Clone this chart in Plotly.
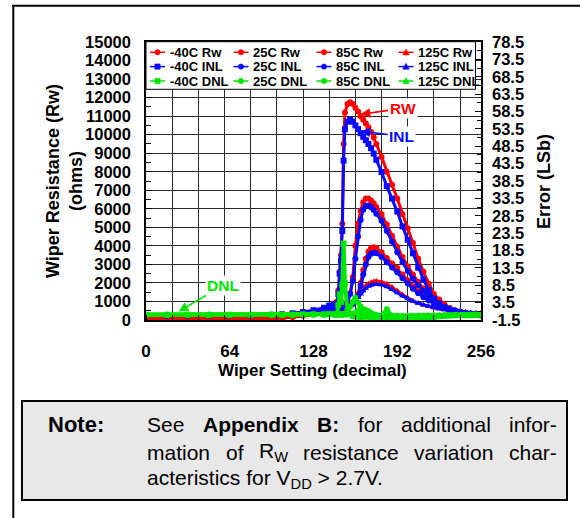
import plotly.graph_objects as go

# ---------------- data ----------------
CODES = [0, 16, 32, 48, 64, 80, 96, 104, 112, 120, 128, 136, 140, 144, 146, 147, 148, 149, 150, 151,
         152, 154, 156, 158, 160, 162, 164, 166, 168, 170, 172, 174, 176, 180, 184, 188, 192, 196, 200,
         204, 208, 212, 216, 220, 224, 228, 232, 236, 240, 244, 248, 252, 256]

# Wiper resistance (ohms), left axis
RW_M40 = [75, 75, 75, 75, 78, 80, 90, 120, 180, 260, 360, 500, 700, 900, 1000, 1600, 2600, 3500, 5200, 9500,
          11200, 11650, 11750, 11650, 11450, 11250, 11000, 10800, 10600, 10400, 10150, 9850, 9500, 8800, 8000,
          7300, 6550, 5700, 4950, 4150, 3300, 2600, 1950, 1400, 1100, 850, 650, 500, 400, 340, 295, 265, 240]
RW_25 = [75, 75, 75, 75, 78, 80, 90, 115, 170, 240, 330, 440, 500, 580, 620, 640, 670, 700, 740, 780,
         830, 1000, 1450, 2300, 4000, 5200, 5900, 6350, 6550, 6550, 6450, 6300, 6100, 5700, 5150,
         4550, 3950, 3400, 2900, 2450, 2050, 1700, 1400, 1150, 920, 760, 630, 530, 450, 385, 335, 295, 265]
RW_85 = [75, 75, 75, 75, 78, 80, 90, 110, 160, 230, 310, 420, 470, 530, 560, 575, 590, 610, 630, 650,
         670, 720, 790, 900, 1080, 1400, 2000, 2700, 3300, 3700, 3880, 3920, 3880, 3650, 3350,
         3050, 2800, 2450, 2150, 1820, 1550, 1310, 1110, 940, 800, 690, 590, 505, 435, 375, 325, 290, 260]
RW_125 = [75, 75, 75, 75, 78, 80, 88, 105, 150, 215, 295, 400, 450, 510, 540, 555, 570, 585, 600, 620,
          650, 750, 880, 1000, 1120, 1300, 1500, 1700, 1850, 1950, 2030, 2080, 2100, 2060, 1950,
          1780, 1580, 1370, 1190, 1040, 910, 810, 730, 660, 600, 550, 505, 465, 435, 405, 385, 365, 345]

# INL (LSb), right axis
INL_M40 = [-0.17, -0.17, -0.16, -0.14, -0.11, -0.09, 0.0, 0.15, 0.42, 0.79, 1.33, 2.02, 2.66, 2.93, 3.14, 5.97,
           11.83, 15.57, 24.1, 44.37, 53.43, 55.57, 56.1, 55.57, 54.5, 53.43, 52.26, 51.19, 50.23, 49.17,
           47.94, 46.39, 44.63, 41.06, 37.01, 33.43, 29.7, 25.43, 21.59, 17.7, 13.54, 10.13, 7.14, 4.63,
           3.3, 2.23, 1.49, 0.95, 0.58, 0.31, 0.1, -0.01, -0.11]
INL_25 = [-0.17, -0.17, -0.16, -0.14, -0.11, -0.09, -0.02, 0.1, 0.3, 0.64, 1.06, 1.49, 1.7, 1.91, 2.02, 2.1,
          2.18, 2.26, 2.37, 2.5, 2.71, 3.57, 5.97, 9.7, 16.1, 22.5, 27.3, 30.23, 31.41, 31.46, 30.93,
          30.18, 29.11, 27.03, 24.1, 21.01, 17.97, 15.14, 12.63, 10.34, 8.53, 6.82, 5.38, 4.15, 3.09,
          2.34, 1.7, 1.22, 0.85, 0.55, 0.31, 0.13, -0.03]
INL_85 = [-0.17, -0.17, -0.16, -0.14, -0.11, -0.09, -0.03, 0.07, 0.26, 0.55, 0.9, 1.33, 1.54, 1.76, 1.86, 1.92,
          1.97, 2.02, 2.07, 2.13, 2.18, 2.34, 2.66, 3.14, 3.83, 5.43, 8.37, 11.57, 14.5, 16.63, 17.59,
          17.86, 17.7, 16.63, 15.14, 13.59, 12.26, 10.55, 9.01, 7.46, 6.18, 5.07, 4.1, 3.28, 2.61,
          2.05, 1.57, 1.17, 0.85, 0.55, 0.31, 0.1, -0.06]
INL_125 = [-0.17, -0.17, -0.16, -0.14, -0.11, -0.09, -0.04, 0.05, 0.2, 0.45, 0.76, 1.14, 1.3, 1.49, 1.57, 1.62,
           1.67, 1.73, 1.81, 1.89, 1.97, 2.39, 2.87, 3.46, 4.1, 5.01, 5.97, 6.93, 7.67, 8.21, 8.53,
           8.69, 8.74, 8.63, 8.1, 7.3, 6.34, 5.43, 4.58, 3.89, 3.3, 2.82, 2.39, 2.05, 1.73,
           1.46, 1.25, 1.06, 0.9, 0.77, 0.63, 0.53, 0.42]

# DNL (LSb), right axis
DNL_M40 = [0.0, 0.0, 0.0, 0.0, 0.0, 0.0, 0.0, 0.0, 0.0, 0.1, 0.1, 0.1, 0.2, 0.1, 0.2, 2.8, 5.9, 3.7, 8.5, 20.5,
           9.1, 1.1, 0.3, -0.3, -0.5, -0.5, -0.6, -0.5, -0.5, -0.5, -0.6, -0.7, -0.8, -0.8, -0.9, -0.9,
           -0.9, -0.9, -0.9, -0.9, -0.8, -0.8, -0.7, -0.6, -0.4, -0.3, -0.2, -0.1, -0.1, -0.1, -0.1, 0.0, 0.0]
DNL_25 = [0.0, 0.0, 0.0, 0.0, 0.0, 0.0, 0.0, 0.0, 0.1, 0.1, 0.1, 0.1, 0.1, 0.1, 0.1, 0.1, 0.1, 0.1, 0.1, 0.2,
          0.2, 0.9, 2.4, 3.7, 4.9, 3.5, 2.4, 1.4, 0.6, 0.0, -0.3, -0.4, -0.5, -0.5, -0.7, -0.8, -0.7,
          -0.7, -0.6, -0.6, -0.4, -0.4, -0.4, -0.3, -0.3, -0.2, -0.2, -0.1, -0.1, -0.1, -0.1, 0.0, 0.0]
DNL_85 = [0.0, 0.0, 0.0, 0.0, 0.0, 0.0, 0.0, 0.0, 0.0, 0.0, 0.1, 0.1, 0.1, 0.1, 0.1, 0.1, 0.1, 0.1, 0.1, 0.1,
          0.1, 0.1, 0.2, 0.3, 0.5, 1.2, 1.5, 1.6, 1.4, 1.0, 0.5, 0.1, -0.1, -0.3, 1.6, -0.4, -0.3,
          -0.4, -0.4, -0.3, -0.3, -0.3, -0.2, -0.2, -0.2, -0.1, -0.1, -0.1, -0.1, -0.1, 0.0, 0.0, 0.0]
DNL_125 = [0.0, 0.0, 0.0, 0.0, 0.0, 0.0, 0.0, 0.0, 0.0, 0.0, 0.0, 0.1, 0.1, 0.1, 0.1, 0.1, 0.1, 0.1, 0.1, 0.1,
           0.1, 0.2, 0.3, 0.3, 0.4, 0.5, 0.5, 0.5, 0.4, 0.3, 0.2, 0.1, 0.0, -0.1, -0.1, -0.2, -0.2,
           -0.2, -0.2, -0.2, -0.1, -0.1, -0.1, -0.1, -0.1, -0.1, -0.1, 0.0, 0.0, 0.0, 0.0, 0.0, 0.0]

TEMPS = ["-40C", "25C", "85C", "125C"]
RW_SERIES = [RW_M40, RW_25, RW_85, RW_125]
INL_SERIES = [INL_M40, INL_25, INL_85, INL_125]
DNL_SERIES = [DNL_M40, DNL_25, DNL_85, DNL_125]

X_TICKS = [0, 64, 128, 192, 256]
X_GRID = [0, 20, 40, 60, 80, 100, 120, 140, 160, 180, 200, 220, 240]
RW_TICKS = [0, 1000, 2000, 3000, 4000, 5000, 6000, 7000, 8000, 9000, 10000, 11000, 12000, 13000, 14000, 15000]
ERR_TICKS = [-1.5, 3.5, 8.5, 13.5, 18.5, 23.5, 28.5, 33.5, 38.5, 43.5, 48.5, 53.5, 58.5, 63.5, 68.5, 73.5, 78.5]
ERR_TICK_TEXT = ["-1.5", "3.5", "8.5", "13.5", "18.5", "23.5", "28.5", "33.5", "38.5", "43.5", "48.5",
                 "53.5", "58.5", "63.5", "68.5", "73.5", "78.5"]

NOTE_LINE1 = ["See", "<b>Appendix</b>", "<b>B:</b>", "for", "additional", "infor-"]
NOTE_LINE2 = ["mation", "of", "R<sub>W</sub>", "resistance", "variation", "char-"]
NOTE_LINE3 = "acteristics for V<sub>DD</sub> > 2.7V."

# ---------------- styling ----------------
FONT = "Liberation Sans, Arial, sans-serif"
RED, BLUE, GREEN = "#ff0000", "#0a0aff", "#00e600"
GRID = "#2a2a2a"
SYMBOLS = {
    "Rw": ["circle", "circle", "circle", "triangle-up"],
    "INL": ["square", "circle", "circle", "triangle-up"],
    "DNL": ["square", "circle", "circle", "triangle-up"],
}
W, H = 580, 518
ML, MR, MT, MB = 146, 99, 42, 198
PW = W - ML - MR
PH = H - MT - MB


def pxx(x):
    return (x - ML) / PW


def pxy(y):
    return (H - MB - y) / PH


# approximate Arial / Liberation Sans advance widths (em) for justifying the note text
REG = {' ': .278, '-': .333, '.': .278, ':': .278, '>': .584, 'a': .556, 'b': .556, 'c': .5, 'd': .556,
       'e': .556, 'f': .278, 'h': .556, 'i': .222, 'l': .222, 'm': .833, 'n': .556, 'o': .556, 'r': .333,
       's': .5, 't': .278, 'v': .5, 'R': .722, 'S': .667, 'W': .944}
BOLD = {'A': .722, 'p': .611, 'e': .556, 'n': .611, 'd': .611, 'i': .278, 'x': .556, 'B': .722, ':': .333}


def word_em(w):
    if w.startswith("<b>"):
        s = w[3:-4]
        return sum(BOLD.get(ch, .6) for ch in s)
    if "<sub>" in w:
        base, rest = w.split("<sub>")
        sub = rest.replace("</sub>", "")
        return sum(REG.get(ch, .6) for ch in base) + 0.7 * sum(REG.get(ch, .6) for ch in sub)
    return sum(REG.get(ch, .55) for ch in w)


fig = go.Figure()

for t, ys, sym in zip(TEMPS, RW_SERIES, SYMBOLS["Rw"]):
    fig.add_trace(go.Scatter(x=CODES, y=ys, name=t + " Rw", mode="lines+markers",
                             line=dict(color=RED, width=3), marker=dict(color=RED, size=6, symbol=sym),
                             yaxis="y", showlegend=False))
for t, ys, sym in zip(TEMPS, INL_SERIES, SYMBOLS["INL"]):
    fig.add_trace(go.Scatter(x=CODES, y=ys, name=t + " INL", mode="lines+markers",
                             line=dict(color=BLUE, width=3), marker=dict(color=BLUE, size=6, symbol=sym),
                             yaxis="y2", showlegend=False))
for t, ys, sym in zip(TEMPS, DNL_SERIES, SYMBOLS["DNL"]):
    fig.add_trace(go.Scatter(x=CODES, y=ys, name=t + " DNL", mode="lines+markers",
                             line=dict(color=GREEN, width=4), marker=dict(color=GREEN, size=6, symbol=sym),
                             yaxis="y2", showlegend=False))

tickfont = dict(family=FONT, size=16.5, color="black", weight="bold")

shapes = []
annotations = []

# outer frame (top and left rules)
shapes.append(dict(type="line", xref="paper", yref="paper", x0=pxx(12.3), x1=pxx(581), y0=pxy(5.8), y1=pxy(5.8),
                   line=dict(color="black", width=2)))
shapes.append(dict(type="line", xref="paper", yref="paper", x0=pxx(13.3), x1=pxx(13.3), y0=pxy(5), y1=pxy(519),
                   line=dict(color="black", width=2)))

# note box
shapes.append(dict(type="rect", xref="paper", yref="paper", x0=pxx(22), x1=pxx(567), y0=pxy(401), y1=pxy(500),
                   fillcolor="#e8e8e8", line=dict(color="black", width=2), layer="below"))

# legend box
shapes.append(dict(type="rect", xref="paper", yref="paper", x0=pxx(146), x1=pxx(475.5), y0=pxy(41.7), y1=pxy(89.3),
                   fillcolor="white", line=dict(color="black", width=1), layer="above"))

ROW_Y = [52.3, 66.6, 81.0]
COL_X = [150, 233.5, 316.5, 398.5]
GROUPS = [("Rw", RED), ("INL", BLUE), ("DNL", GREEN)]
for r, (g, col) in enumerate(GROUPS):
    for c, t in enumerate(TEMPS):
        x0 = COL_X[c]
        yy = ROW_Y[r]
        shapes.append(dict(type="line", xref="paper", yref="paper", x0=pxx(x0), x1=pxx(x0 + 15),
                           y0=pxy(yy), y1=pxy(yy), line=dict(color=col, width=1.5), layer="above"))
        mx = x0 + 7.5
        sym = SYMBOLS[g][c]
        s = 2.7
        if sym == "circle":
            shapes.append(dict(type="circle", xref="paper", yref="paper", x0=pxx(mx - s), x1=pxx(mx + s),
                               y0=pxy(yy - s), y1=pxy(yy + s), fillcolor=col, line=dict(color=col, width=0.5),
                               layer="above"))
        elif sym == "square":
            shapes.append(dict(type="rect", xref="paper", yref="paper", x0=pxx(mx - s), x1=pxx(mx + s),
                               y0=pxy(yy - s), y1=pxy(yy + s), fillcolor=col, line=dict(color=col, width=0.5),
                               layer="above"))
        else:
            path = "M %f,%f L %f,%f L %f,%f Z" % (pxx(mx), pxy(yy - 3.3), pxx(mx - 3.3), pxy(yy + 2.7),
                                                   pxx(mx + 3.3), pxy(yy + 2.7))
            shapes.append(dict(type="path", xref="paper", yref="paper", path=path, fillcolor=col,
                               line=dict(color=col, width=0.5), layer="above"))
        annotations.append(dict(xref="paper", yref="paper", x=pxx(x0 + 17.5), y=pxy(yy), text=t + " " + g,
                                showarrow=False, xanchor="left", yanchor="middle",
                                font=dict(family=FONT, size=13, color="black", weight="bold")))

# axis titles
annotations.append(dict(xref="paper", yref="paper", x=pxx(312.5), y=pxy(370), text="Wiper Setting (decimal)",
                        showarrow=False, xanchor="center", yanchor="middle",
                        font=dict(family=FONT, size=17, color="black", weight="bold")))
annotations.append(dict(xref="paper", yref="paper", x=pxx(64), y=pxy(181), text="Wiper Resistance (Rw)<br>(ohms)",
                        showarrow=False, xanchor="center", yanchor="middle", textangle=-90,
                        font=dict(family=FONT, size=18, color="black", weight="bold")))
annotations.append(dict(xref="paper", yref="paper", x=pxx(544), y=pxy(182), text="Error (LSb)",
                        showarrow=False, xanchor="center", yanchor="middle", textangle=-90,
                        font=dict(family=FONT, size=18, color="black", weight="bold")))

# curve labels with arrows
lab_font = dict(family=FONT, size=15.5, weight="bold")
annotations.append(dict(x=164, y=11100, xref="x", yref="y", text="RW", showarrow=True, ax=42, ay=-6,
                        arrowcolor=RED, arrowwidth=1.6, arrowhead=2, arrowsize=1.2, bgcolor="white",
                        font=dict(color=RED, **lab_font)))
annotations.append(dict(x=164, y=10190, xref="x", yref="y", text="INL", showarrow=True, ax=41, ay=5,
                        arrowcolor=BLUE, arrowwidth=1.6, arrowhead=2, arrowsize=1.2, bgcolor="white",
                        font=dict(color=BLUE, **lab_font)))
annotations.append(dict(x=25, y=460, xref="x", yref="y", text="DNL", showarrow=True, ax=44, ay=-26,
                        arrowcolor=GREEN, arrowwidth=1.6, arrowhead=2, arrowsize=1.2, bgcolor="white",
                        font=dict(color=GREEN, **lab_font)))

# note text (lines 1 and 2 justified like the reference)
NOTE_FS = 21
note_font = dict(family=FONT, size=NOTE_FS, color="black")
annotations.append(dict(xref="paper", yref="paper", x=pxx(46), y=pxy(425), text="<b>Note:</b>",
                        showarrow=False, xanchor="left", yanchor="middle",
                        font=dict(family=FONT, size=22, color="black")))
TEXT_L, TEXT_R = 146, 556
for yy, words in ((425, NOTE_LINE1), (452, NOTE_LINE2)):
    widths = [word_em(w) * NOTE_FS for w in words]
    gap = (TEXT_R - TEXT_L - sum(widths)) / (len(words) - 1)
    xcur = TEXT_L
    for w, wd in zip(words, widths):
        annotations.append(dict(xref="paper", yref="paper", x=pxx(xcur), y=pxy(yy), text=w,
                                showarrow=False, xanchor="left", yanchor="middle", font=note_font,
                                borderpad=0))
        xcur += wd + gap
annotations.append(dict(xref="paper", yref="paper", x=pxx(TEXT_L), y=pxy(479), text=NOTE_LINE3,
                        showarrow=False, xanchor="left", yanchor="middle", font=note_font, borderpad=0))

fig.update_layout(
    width=W, height=H,
    margin=dict(l=ML, r=MR, t=MT, b=MB, autoexpand=False),
    paper_bgcolor="white", plot_bgcolor="white",
    showlegend=False,
    xaxis=dict(range=[0, 256], tickmode="array", tickvals=X_TICKS, ticktext=[str(v) for v in X_TICKS],
               ticks="", showgrid=False, zeroline=False,
               minor=dict(tickvals=X_GRID, showgrid=True, gridcolor=GRID, gridwidth=1,
                          ticks="inside", ticklen=5, tickcolor="black"),
               showline=True, linecolor="black", linewidth=1.5, mirror=True,
               tickfont=dict(family=FONT, size=17, color="black", weight="bold"), ticklabelstandoff=15),
    yaxis=dict(range=[0, 15000], tickmode="array", tickvals=RW_TICKS, ticktext=[str(v) for v in RW_TICKS],
               ticks="inside", ticklen=6, tickcolor="black", showgrid=True, gridcolor=GRID, gridwidth=1,
               zeroline=False,
               minor=dict(dtick=500, tick0=0, ticks="inside", ticklen=5, tickcolor="black", showgrid=False),
               showline=True, linecolor="black", linewidth=1.5, mirror=True,
               tickfont=tickfont, ticklabelstandoff=10),
    yaxis2=dict(overlaying="y", side="right", range=[-1.5, 78.5], tickmode="array", tickvals=ERR_TICKS,
                ticktext=ERR_TICK_TEXT, ticks="inside", ticklen=6, tickcolor="black", showgrid=False,
                zeroline=False,
                minor=dict(dtick=2.5, tick0=-1.5, ticks="inside", ticklen=4, tickcolor="black"),
                showline=False, tickfont=tickfont, ticklabelstandoff=10),
    shapes=shapes,
    annotations=annotations,
)

fig.write_html("out.html", config={"displayModeBar": False},
               post_script="document.body.style.margin='0px';document.body.style.overflow='hidden';")
